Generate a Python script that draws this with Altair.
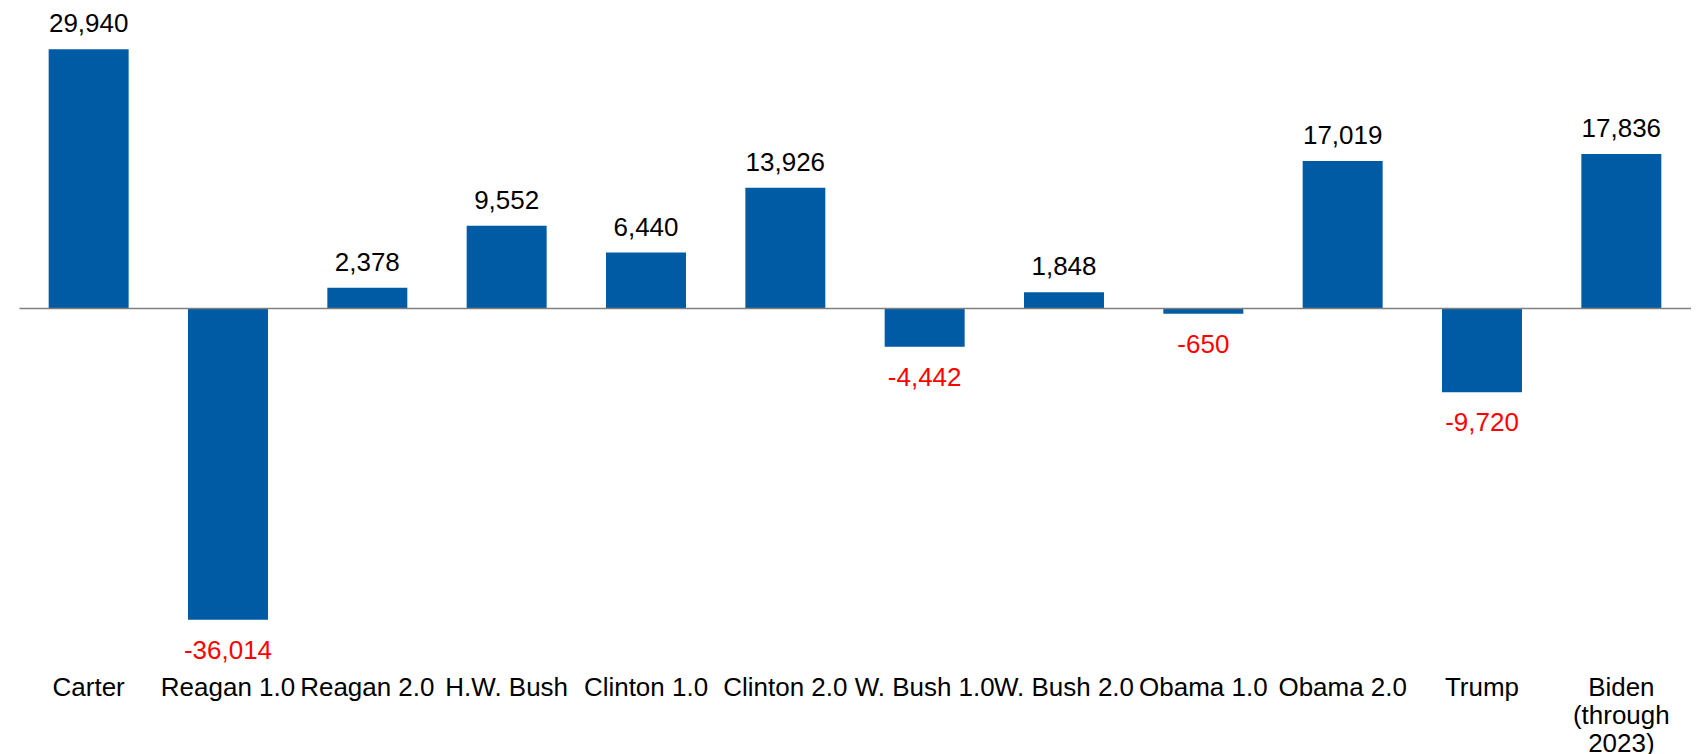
import altair as alt
import pandas as pd

categories = ["Carter", "Reagan 1.0", "Reagan 2.0", "H.W. Bush", "Clinton 1.0",
              "Clinton 2.0", "W. Bush 1.0", "W. Bush 2.0", "Obama 1.0", "Obama 2.0",
              "Trump", "Biden\n(through\n2023)"]
values = [29940, -36014, 2378, 9552, 6440, 13926, -4442, 1848, -650, 17019, -9720, 17836]

df = pd.DataFrame({
    "cat": categories,
    "value": values,
    "label": [f"{v:,}" for v in values],
    "sign": ["pos" if v >= 0 else "neg" for v in values],
})

FONT = "Liberation Sans"
BLUE = "#005BA5"
YDOM = [-38000, 34000]

yaxis = alt.Axis(values=[0], grid=True, gridColor="#7f7f7f", gridWidth=1.5,
                 labels=False, ticks=False, domain=False, title=None, zindex=1)

x = alt.X("cat:N", sort=categories, title=None,
          scale=alt.Scale(paddingInner=0.426, paddingOuter=0.213),
          axis=None)
y = alt.Y("value:Q", title=None,
          scale=alt.Scale(domain=YDOM, nice=False, zero=True),
          axis=yaxis)

base = alt.Chart(df)

bars = base.mark_bar(color=BLUE).encode(x=x, y=y)

pos_text = base.transform_filter(alt.datum.sign == "pos").mark_text(
    font=FONT, fontSize=26, color="#000000", baseline="alphabetic", dy=-17
).encode(x=x, y=y, text="label:N")

neg_text = base.transform_filter(alt.datum.sign == "neg").mark_text(
    font=FONT, fontSize=26, color="#FF0000", baseline="alphabetic", dy=39
).encode(x=x, y=y, text="label:N")

cat_text = base.mark_text(
    font=FONT, fontSize=26, color="#000000", baseline="top", dy=38,
    lineBreak="\n", lineHeight=28
).encode(x=x, y=alt.datum(YDOM[0]), text="cat:N")

chart = alt.layer(bars, pos_text, neg_text, cat_text).properties(
    width=1673, height=623,
    padding={"left": 11, "top": 6, "right": 0, "bottom": 118},
    autosize=alt.AutoSizeParams(type="none"),
    background="#ffffff",
).configure_view(strokeWidth=0)

chart.save("out.html", embed_options={"renderer": "svg", "actions": False})
